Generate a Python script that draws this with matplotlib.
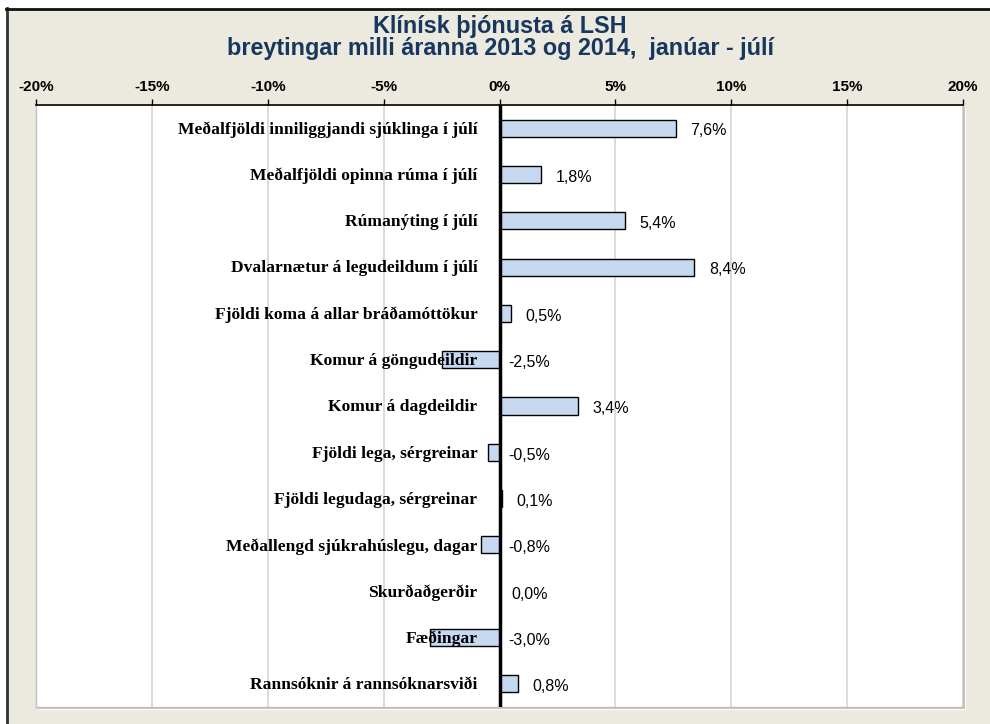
import matplotlib
matplotlib.use("Agg")
import matplotlib.pyplot as plt
from matplotlib.patches import Rectangle
from matplotlib.lines import Line2D

categories = [
    "Meðalfjöldi inniliggjandi sjúklinga í júlí",
    "Meðalfjöldi opinna rúma í júlí",
    "Rúmanýting í júlí",
    "Dvalarnætur á legudeildum í júlí",
    "Fjöldi koma á allar bráðamóttökur",
    "Komur á göngudeildir",
    "Komur á dagdeildir",
    "Fjöldi lega, sérgreinar",
    "Fjöldi legudaga, sérgreinar",
    "Meðallengd sjúkrahúslegu, dagar",
    "Skurðaðgerðir",
    "Fæðingar",
    "Rannsóknir á rannsóknarsviði",
]
values = [7.6, 1.8, 5.4, 8.4, 0.5, -2.5, 3.4, -0.5, 0.1, -0.8, 0.0, -3.0, 0.8]
xticks = [-20, -15, -10, -5, 0, 5, 10, 15, 20]
xtick_labels = [f"{t}%" for t in xticks]
title_lines = ["Klínísk þjónusta á LSH",
               "breytingar milli áranna 2013 og 2014,  janúar - júlí"]

W, H = 990, 724
fig = plt.figure(figsize=(W / 100, H / 100), dpi=100)
fig.patch.set_facecolor("white")

beige = "#ECE9DF"
fig.patches.append(Rectangle((7 / W, 0), 1 - 7 / W, 1 - 9 / H, transform=fig.transFigure,
                             facecolor=beige, edgecolor="none", zorder=0))
fig.lines.append(Line2D([7 / W, 7 / W], [0, 1 - 8 / H], transform=fig.transFigure,
                        color="#333333", lw=2, zorder=1))
fig.lines.append(Line2D([6 / W, 1], [1 - 8.5 / H, 1 - 8.5 / H], transform=fig.transFigure,
                        color="#111111", lw=2, zorder=1))

L, R, T, B = 36, 963, 105, 707
ax_rect = [L / W, 1 - B / H, (R - L) / W, (B - T) / H]
fig.patches.append(Rectangle((ax_rect[0] + 3 / W, ax_rect[1] - 3 / H), ax_rect[2], ax_rect[3],
                             transform=fig.transFigure, facecolor="white", edgecolor="none", zorder=0.5))
fig.patches.append(Rectangle((ax_rect[0] + 1.5 / W, ax_rect[1] - 1.5 / H), ax_rect[2], ax_rect[3],
                             transform=fig.transFigure, facecolor="#C4C4C4", edgecolor="none", zorder=0.6))

ax = fig.add_axes(ax_rect)
ax.set_zorder(2)
ax.set_facecolor("white")
n = len(categories)
ypos = list(range(n))
ax.set_xlim(-20, 20)
ax.set_ylim(n - 0.5, -0.5)

for t in xticks:
    if t != 0:
        ax.axvline(t, color="#D4D4D4", lw=1.2, zorder=0)

ax.barh(ypos, values, height=0.37, color="#C6D9F1", edgecolor="black", lw=1.0, zorder=2)
ax.axvline(0, color="black", lw=2.5, zorder=4)

for y, c, v in zip(ypos, categories, values):
    ax.annotate(c, xy=(-0.95, y), xytext=(0, -1), textcoords="offset points",
                ha="right", va="center", fontsize=12.6, fontweight="bold",
                family="Liberation Serif", zorder=3)
    dx = 10.5 if v > 0 else (8.5 if v == 0 else 6.5)
    ax.annotate(f"{v:.1f}%".replace(".", ","), xy=(max(v, 0), y), xytext=(dx, -2),
                textcoords="offset points", ha="left", va="center", fontsize=11.5,
                family="Liberation Sans", zorder=3)

ax.xaxis.tick_top()
ax.set_xticks(xticks)
ax.set_xticklabels(xtick_labels, fontsize=11, fontweight="bold", family="Liberation Sans")
ax.tick_params(axis="x", direction="out", length=4, width=1, pad=4)
ax.set_yticks([])
for s in ["left", "right", "bottom"]:
    ax.spines[s].set_color("#C0C0C0")
    ax.spines[s].set_linewidth(1.0)
ax.spines["top"].set_color("black")
ax.spines["top"].set_linewidth(1.2)

for i, line in enumerate(title_lines):
    fig.text(500 / W, 1 - (26 + 22 * i) / H, line, ha="center", va="center", fontsize=16.8,
             fontweight="bold", family="Liberation Sans", color="#17375E")

fig.savefig("out.png", dpi=100)
